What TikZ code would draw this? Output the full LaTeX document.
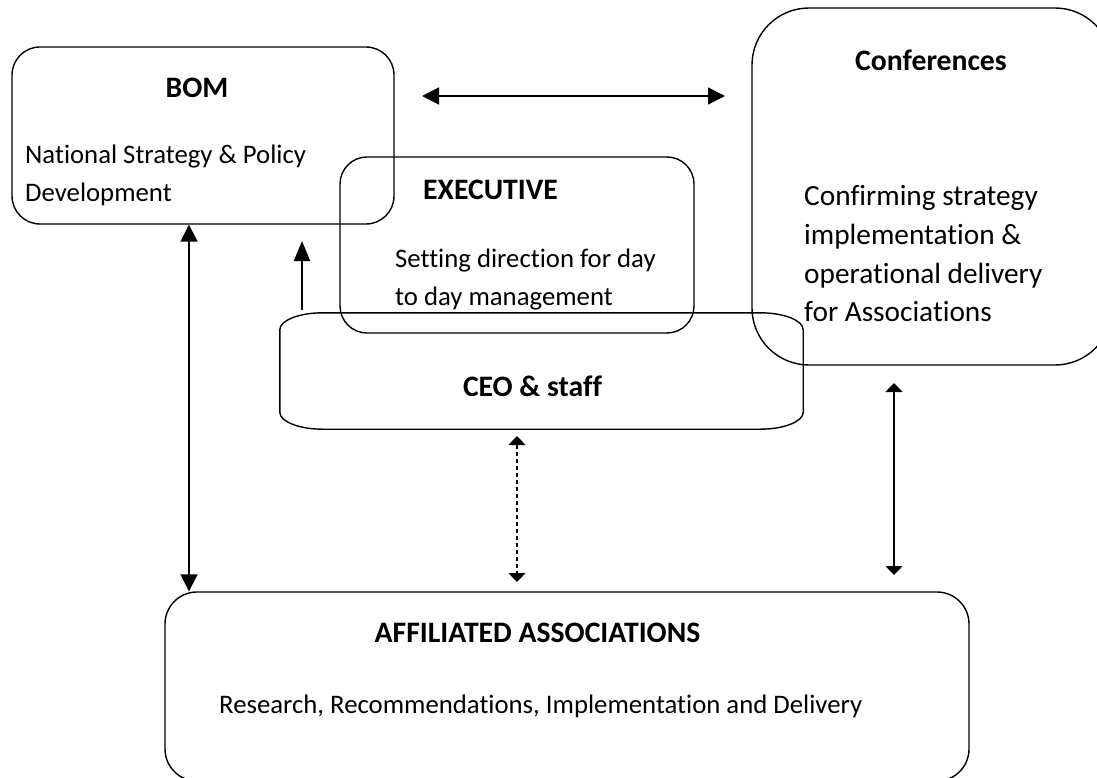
\documentclass[tikz,border=0pt]{standalone}
\usepackage{fontspec}
\setmainfont{Carlito}[Ligatures=NoCommon]
\usetikzlibrary{arrows.meta}
\tikzset{
  bigtip/.tip={Triangle[length=17pt,width=17pt]},
  smalltip/.tip={Triangle[length=9pt,width=17pt]},
  uptip/.tip={Triangle[length=20pt,width=16pt]},
}
\begin{document}
\begin{tikzpicture}[x=1pt,y=-1pt,
  frame/.style={draw, line width=1.4pt, rounded corners=#1, inner sep=0pt},
  frame/.default=28pt,
  title/.style={font=\fontsize{29.7}{40}\selectfont\bfseries, inner sep=0pt, anchor=base},
  body/.style={font=\fontsize{26.75}{37.5}\selectfont, inner sep=0pt, anchor=base west},
  bigbody/.style={body, font=\fontsize{29.3}{38.5}\selectfont},
  link/.style={line width=1.8pt},
  dotlink/.style={line width=1.2pt, dash pattern=on 4pt off 3pt},
]
\useasboundingbox (0,0) rectangle (1097,778);
\clip (0,0) rectangle (1097,778);

% boxes
\node[frame, minimum width=382pt, minimum height=177pt] (bom) at (203,135.5) {};
\node[frame=27pt, minimum width=354pt, minimum height=176pt] (exec) at (517,245) {};
\node[frame=57pt, minimum width=360pt, minimum height=357pt] (conf) at (932,186.5) {};
\node[frame=32pt, minimum width=804pt, minimum height=189pt] (aff) at (567,686.5) {};
\node[inner sep=0pt, minimum width=523pt, minimum height=116pt] (ceo) at (541.5,371) {};
\draw[line width=1.4pt]
  ([xshift=43pt]ceo.north west) -- ([xshift=-43pt]ceo.north east)
  arc[start angle=90, end angle=0, x radius=43pt, y radius=17pt]
  -- ([yshift=17pt]ceo.south east)
  arc[start angle=0, end angle=-90, x radius=43pt, y radius=17pt]
  -- ([xshift=43pt]ceo.south west)
  arc[start angle=-90, end angle=-180, x radius=43pt, y radius=17pt]
  -- ([yshift=-17pt]ceo.north west)
  arc[start angle=180, end angle=90, x radius=43pt, y radius=17pt]
  -- cycle;

% texts
\node[title] (bomT) at (197,98) {BOM};
\node[body] (bomL1) at (25,164) {National Strategy \& Policy};
\node[body] (bomL2) at (25,201) {Development};
\node[title, anchor=base west] (execT) at (423,200) {EXECUTIVE};
\node[body] (execL1) at (395,267.5) {Setting direction for day};
\node[body] (execL2) at (395,305) {to day management};
\node[title] (confT) at (931,71) {Conferences};
\node[bigbody] (confL1) at (804,206) {Confirming strategy};
\node[bigbody] (confL2) at (804,244.5) {implementation \&};
\node[bigbody] (confL3) at (804,283) {operational delivery};
\node[bigbody] (confL4) at (804,321) {for Associations};
\node[title] (ceoT) at (532.5,396) {CEO \& staff};
\node[title] (affT) at (537.5,642) {AFFILIATED ASSOCIATIONS};
\node[body] (affL1) at (219,713) {Research, Recommendations, Implementation and Delivery};

% connector end points
\coordinate (hl) at (422,96);
\coordinate (hr) at (725,96);
\coordinate (bx) at (189,0);
\coordinate (eb) at (302,310);
\coordinate (et) at (302,241);
\coordinate (dt) at (517,436);
\coordinate (db) at (517,582);
\coordinate (rt) at (894,383);
\coordinate (rb) at (894,575);

% connectors
\draw[link, bigtip-bigtip] (hl) -- (hr);
\draw[link, bigtip-bigtip] (bom.south -| bx) -- (aff.north -| bx);
\draw[link, -uptip] (eb) -- (et);
\draw[dotlink, smalltip-smalltip] (dt) -- (db);
\draw[link, line width=1.5pt, smalltip-smalltip] (rt) -- (rb);
\end{tikzpicture}
\end{document}
